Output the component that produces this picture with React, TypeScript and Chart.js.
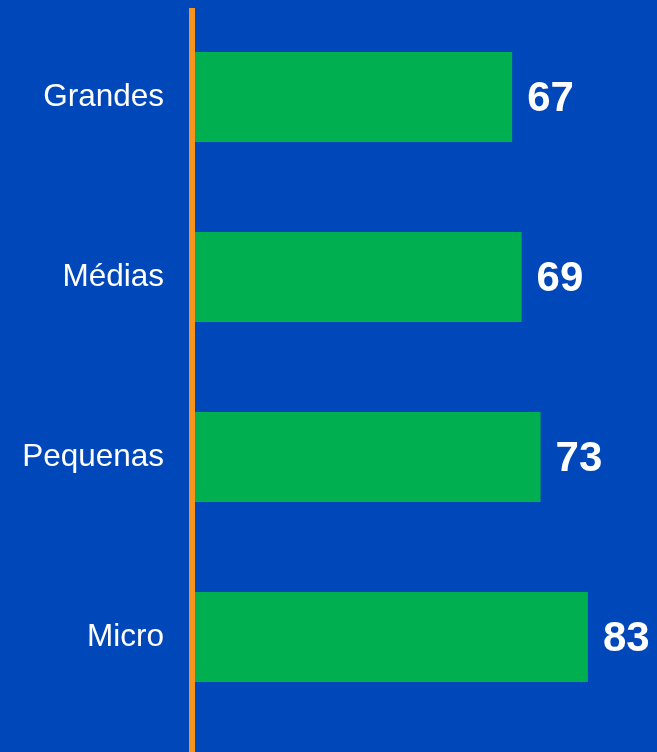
import React, { useEffect, useRef } from "react";
import { Chart, registerables } from "chart.js";

Chart.register(...registerables);

const categories = ["Grandes", "Médias", "Pequenas", "Micro"];
const values = [67, 69, 73, 83];

const BG = "#0047BA";
const BAR = "#00B050";
const AXIS = "#F7941D";
const FONT = "'Liberation Sans', Arial, sans-serif";

const bgPlugin = {
  id: "bgFill",
  beforeDraw(chart: any) {
    const { ctx, width, height } = chart;
    ctx.save();
    ctx.fillStyle = BG;
    ctx.fillRect(0, 0, width, height);
    ctx.restore();
  },
};

const axisLinePlugin = {
  id: "axisLine",
  afterDatasetsDraw(chart: any) {
    const { ctx, chartArea, height } = chart;
    const x = chartArea.left - 3;
    ctx.save();
    ctx.strokeStyle = AXIS;
    ctx.lineWidth = 6;
    ctx.beginPath();
    ctx.moveTo(x, chartArea.top + 1);
    ctx.lineTo(x, height);
    ctx.stroke();
    ctx.restore();
  },
};

const valueLabelPlugin = {
  id: "valueLabels",
  afterDatasetsDraw(chart: any) {
    const { ctx } = chart;
    const meta = chart.getDatasetMeta(0);
    ctx.save();
    ctx.fillStyle = "#FFFFFF";
    ctx.font = `bold 42px ${FONT}`;
    ctx.textAlign = "left";
    ctx.textBaseline = "middle";
    meta.data.forEach((el: any, i: number) => {
      ctx.fillText(String(values[i]), el.x + 15, el.y + 2);
    });
    ctx.restore();
  },
};

export default function App() {
  const ref = useRef<HTMLCanvasElement>(null);
  useEffect(() => {
    if (!ref.current) return;
    const chart = new Chart(ref.current, {
      type: "bar",
      data: {
        labels: categories,
        datasets: [
          {
            data: values,
            backgroundColor: BAR,
            borderWidth: 0,
            barPercentage: 0.5,
            categoryPercentage: 1,
          },
        ],
      },
      options: {
        indexAxis: "y",
        animation: false,
        responsive: false,
        maintainAspectRatio: false,
        layout: { padding: { top: 7, bottom: 25, left: 0, right: 0 } },
        plugins: {
          legend: { display: false },
          tooltip: { enabled: false },
        },
        scales: {
          x: {
            display: false,
            min: 0,
            max: 97.6,
          },
          y: {
            afterFit(scale: any) {
              scale.width = 195;
              scale.paddingTop = 0;
              scale.paddingBottom = 0;
            },
            grid: { display: false, drawTicks: false },
            border: { display: false },
            ticks: {
              color: "#FFFFFF",
              font: { family: FONT, size: 31.5 },
              padding: 31,
            },
          },
        },
      },
      plugins: [bgPlugin, axisLinePlugin, valueLabelPlugin],
    });
    return () => chart.destroy();
  }, []);
  return (
    <div style={{ position: "fixed", left: 0, top: 0, width: 657, height: 752 }}>
      <canvas ref={ref} width={657} height={752} style={{ display: "block" }} />
    </div>
  );
}
